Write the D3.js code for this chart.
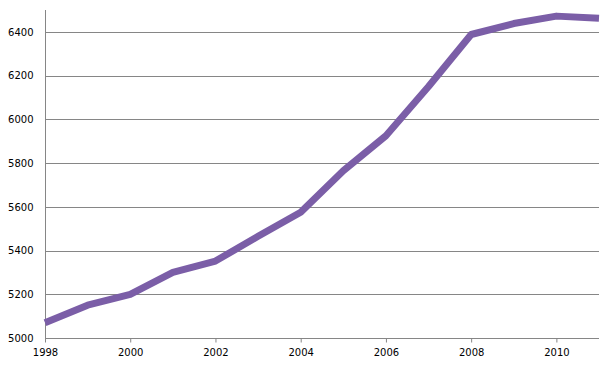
<!DOCTYPE html>
<html><head><meta charset="utf-8">
<script src="https://cdn.jsdelivr.net/npm/d3@7/dist/d3.min.js"></script>
<style>
html,body{margin:0;padding:0;background:#fff;}
svg{display:block;}
</style></head>
<body>
<svg id="chart" width="607" height="370"></svg>
<script>
const years = [1998,1999,2000,2001,2002,2003,2004,2005,2006,2007,2008,2009,2010,2011];
const values = [5070,5150,5200,5300,5352,5465,5575,5765,5925,6150,6388,6438,6472,6462];
const yTicks = [5000,5200,5400,5600,5800,6000,6200,6400];
const xTicks = [1998,2000,2002,2004,2006,2008,2010];

const svg = d3.select("#chart");
const x = d3.scaleLinear().domain([1998,2011]).range([45,599]);
const y = d3.scaleLinear().domain([5000,6500]).range([338,10]);
const font = "'DejaVu Sans', Verdana, sans-serif";

// gridlines
svg.append("g").selectAll("line").data(yTicks.filter(d=>d>5000)).join("line")
  .attr("x1",x.range()[0]).attr("x2",x.range()[1])
  .attr("y1",d=>Math.round(y(d))+0.5).attr("y2",d=>Math.round(y(d))+0.5)
  .attr("stroke","#868686").attr("stroke-width",1);

// y axis
const yAxis = d3.axisLeft(y).tickValues(yTicks).tickSize(0).tickPadding(12).tickFormat(d3.format("d"));
const gy = svg.append("g").attr("transform","translate(45.5,0)").call(yAxis);
gy.select(".domain").attr("stroke","#868686").attr("d","M0,10V338");
gy.selectAll("text").attr("font-family",font).attr("font-size",10).attr("fill","#000");

// x axis
const xAxis = d3.axisBottom(x).tickValues(xTicks).tickSize(4).tickPadding(6).tickFormat(d3.format("d"));
const gx = svg.append("g").attr("transform","translate(0,338.5)").call(xAxis);
gx.select(".domain").attr("stroke","#868686").attr("d","M45,0H599");
gx.selectAll(".tick line").attr("stroke","#868686");
gx.selectAll("text").attr("font-family",font).attr("font-size",10).attr("fill","#000");

// line
const line = d3.line().x((d,i)=>x(years[i])).y(d=>y(d));
svg.append("path").datum(values)
  .attr("d",line)
  .attr("fill","none")
  .attr("stroke","#7b5ea7")
  .attr("stroke-width",7)
  .attr("stroke-linejoin","round");
</script>
</body></html>
